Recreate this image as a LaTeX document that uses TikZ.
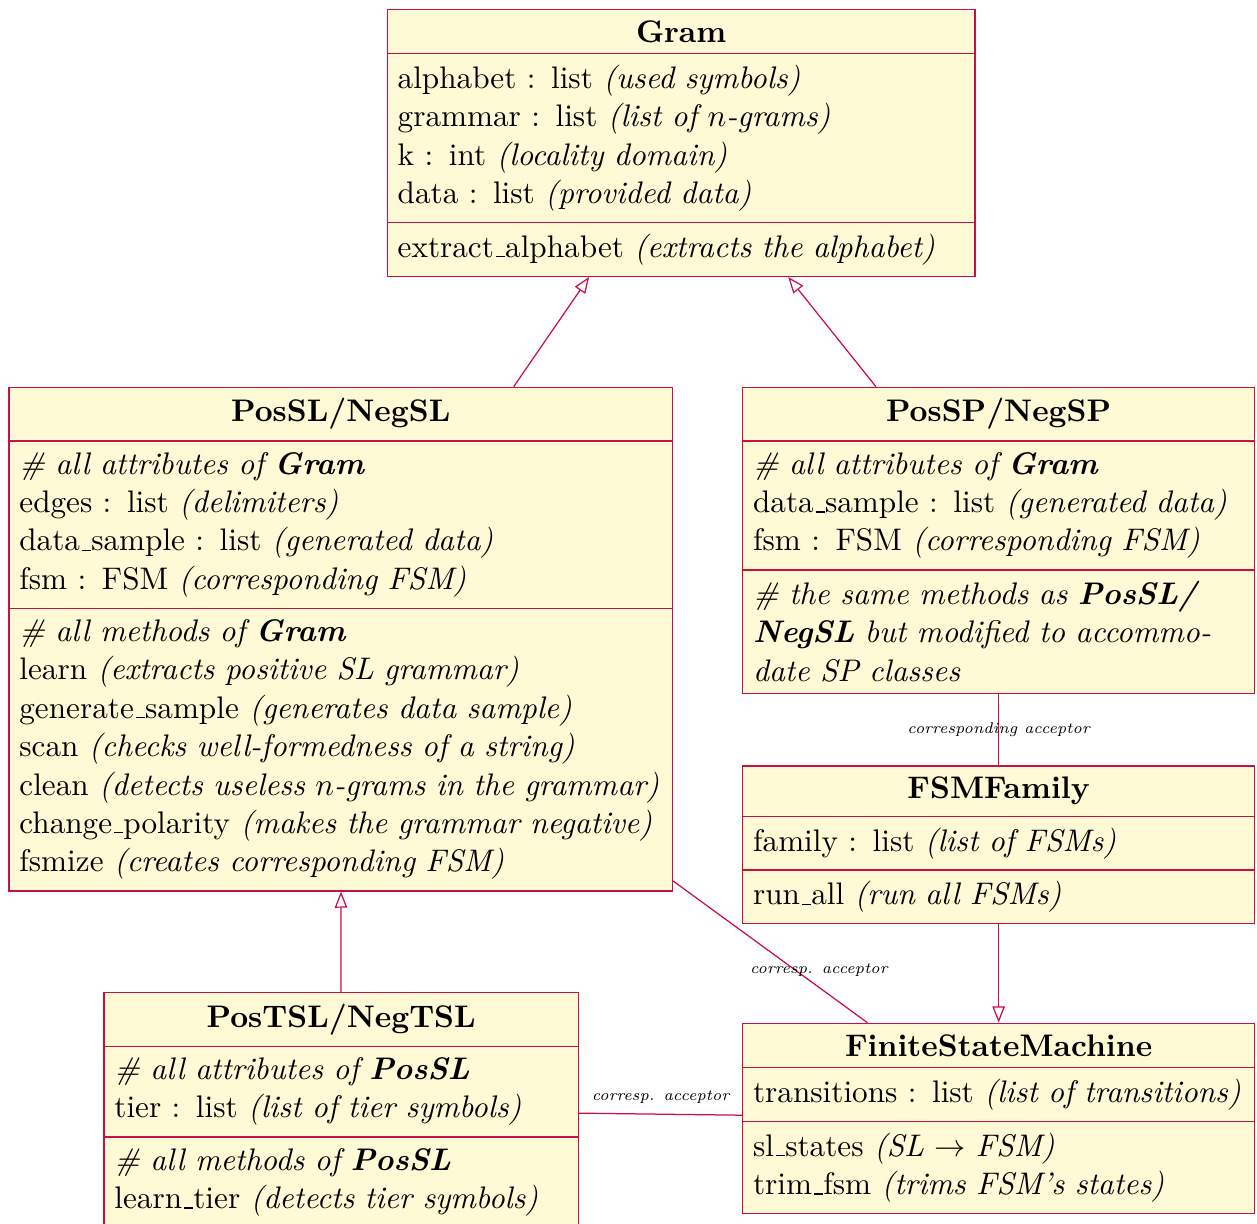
\documentclass[tikz,border=0pt]{standalone}
\usepackage{amsmath}
\usepackage{tikz}
\usetikzlibrary{positioning, fit, arrows.meta}

\definecolor{umldraw}{RGB}{200,16,72}
\definecolor{umlfill}{RGB}{255,250,214}
% narrow underscore as in the classic fonts
\newcommand{\uscore}{\leavevmode\kern.06em\vbox{\hrule width.3em}}

\begin{document}
\begin{tikzpicture}[x=0.3205pt, y=-0.3205pt,
    classpart/.style={draw=umldraw, fill=umlfill, text width=#1, inner xsep=0.3333em,
        inner ysep=3.6pt, outer sep=0pt, font=\fontsize{10}{12.3}\selectfont},
    classname/.style={classpart=#1, align=center, font=\bfseries, anchor=north west},
    inherit/.style={draw=umldraw, -{Triangle[open, length=5.2pt, width=4pt]}},
    assoc/.style={draw=umldraw},
    linklabel/.style={font=\tiny\itshape, text=black}]
    \useasboundingbox (0,0) rectangle (1257,1224);

    % Class Gram (top)
    \node[classname=181.7pt] (gram-name) at (387.3,9.3) {Gram};
    \node[classpart=181.7pt, below=0pt of gram-name] (gram-attr)
        {alphabet : list \textit{(used symbols)}\\
         grammar : list \textit{(list of $n$-grams)}\\
         k : int \textit{(locality domain)}\\
         data : list \textit{(provided data)}};
    \node[classpart=181.7pt, below=0pt of gram-attr] (gram-meth)
        {extract\uscore alphabet \textit{(extracts the alphabet)}};
    \node[fit=(gram-name)(gram-meth), inner sep=0pt] (gram) {};

    % Class PosSL/NegSL
    \node[classname=206.0pt] (possl-name) at (9,387.3) {PosSL/NegSL};
    \node[classpart=206.0pt, below=0pt of possl-name] (possl-attr)
        {\textit{\# all attributes of \textbf{Gram}}\\
         edges : list \textit{(delimiters)}\\
         data\uscore sample : list \textit{(generated data)}\\
         fsm : FSM \textit{(corresponding FSM)}};
    \node[classpart=206.0pt, below=0pt of possl-attr] (possl-meth)
        {\textit{\# all methods of \textbf{Gram}}\\
         learn \textit{(extracts positive SL grammar)}\\
         generate\uscore sample \textit{(generates data sample)}\\
         scan \textit{(checks well-formedness of a string)}\\
         clean \textit{(detects useless $n$-grams in the grammar)}\\
         change\uscore polarity \textit{(makes the grammar negative)}\\
         fsmize \textit{(creates corresponding FSM)}};
    \node[fit=(possl-name)(possl-meth), inner sep=0pt] (possl) {};

    % Class PosSP/NegSP
    \node[classname=157.4pt] (possp-name) at (742.7,387.3) {PosSP/NegSP};
    \node[classpart=157.4pt, below=0pt of possp-name] (possp-attr)
        {\textit{\# all attributes of \textbf{Gram}}\\
         data\uscore sample : list \textit{(generated data)}\\
         fsm : FSM \textit{(corresponding FSM)}};
    \node[classpart=157.4pt, below=0pt of possp-attr] (possp-meth)
        {\textit{\# the same methods as \textbf{PosSL/ NegSL} but modified to accommodate SP classes}};
    \node[fit=(possp-name)(possp-meth), inner sep=0pt] (possp) {};

    % Class FSMFamily
    \node[classname=157.4pt] (family-name) at (742.7,766) {FSMFamily};
    \node[classpart=157.4pt, below=0pt of family-name] (family-attr)
        {family : list \textit{(list of FSMs)}};
    \node[classpart=157.4pt, below=0pt of family-attr] (family-meth)
        {run\uscore all \textit{(run all FSMs)}};
    \node[fit=(family-name)(family-meth), inner sep=0pt] (family) {};

    % Class FiniteStateMachine
    \node[classname=157.4pt] (fsm-name) at (742.7,1023.3) {FiniteStateMachine};
    \node[classpart=157.4pt, below=0pt of fsm-name] (fsm-attr)
        {transitions : list \textit{(list of transitions)}};
    \node[classpart=157.4pt, below=0pt of fsm-attr] (fsm-meth)
        {sl\uscore states \textit{(SL $\rightarrow$ FSM)}\\
         trim\uscore fsm \textit{(trims FSM's states)}};
    \node[fit=(fsm-name)(fsm-meth), inner sep=0pt] (fsm) {};

    % Class PosTSL/NegTSL
    \node[classname=145.4pt] (postsl-name) at (104,992.7) {PosTSL/NegTSL};
    \node[classpart=145.4pt, below=0pt of postsl-name] (postsl-attr)
        {\textit{\# all attributes of \textbf{PosSL}}\\
         tier : list \textit{(list of tier symbols)}};
    \node[classpart=145.4pt, below=0pt of postsl-attr] (postsl-meth)
        {\textit{\# all methods of \textbf{PosSL}}\\
         learn\uscore tier \textit{(detects tier symbols)}};
    \node[fit=(postsl-name)(postsl-meth), inner sep=0pt] (postsl) {};

    % Inheritance
    \draw[inherit] (possl) -- (gram);
    \draw[inherit] (possp) -- (gram);
    \draw[inherit] (postsl) -- (possl);
    \draw[inherit] (family) -- (fsm);

    % Associations
    \draw[assoc] (possp) -- node[linklabel] {corresponding acceptor} (family);
    \draw[assoc] (possl) -- node[linklabel, pos=0.75, above] {corresp. acceptor} (fsm);
    \draw[assoc] (postsl) -- node[linklabel, above] {corresp. acceptor} (fsm);
\end{tikzpicture}
\end{document}
